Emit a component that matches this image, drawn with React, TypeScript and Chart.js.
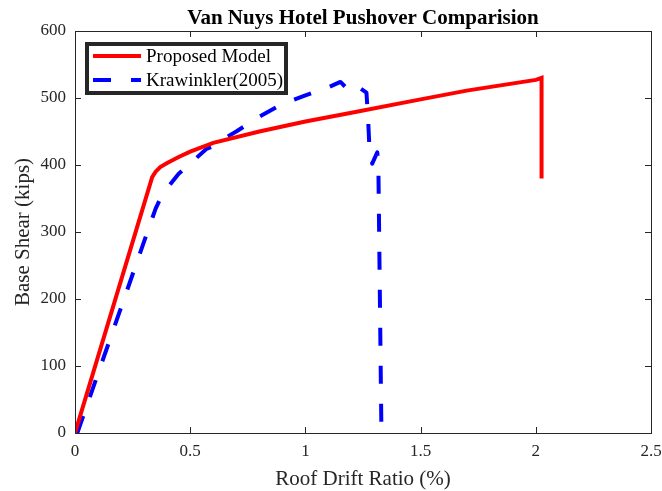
import React, { useEffect, useRef } from "react";
import { Chart, registerables } from "chart.js";

Chart.register(...registerables);

const chartTitle = "Van Nuys Hotel Pushover Comparision";
const xAxisLabel = "Roof Drift Ratio (%)";
const yAxisLabel = "Base Shear (kips)";

const proposedLabel = "Proposed Model";
const proposedX = [0, 0.335, 0.35, 0.37, 0.4, 0.45, 0.5, 0.6, 0.8, 1.0, 1.2, 1.5, 1.7, 2.0, 2.025, 2.025];
const proposedY = [0, 382, 390, 397, 403, 412, 420, 433, 450, 465, 478, 498, 511, 527, 530, 380];

const krawLabel = "Krawinkler(2005)";
const krawX = [0.01, 0.3, 0.35, 0.38, 0.45, 0.5, 0.57, 0.6, 0.62, 0.65, 0.7, 0.8, 0.9, 1.0, 1.1, 1.152, 1.181, 1.21, 1.265, 1.272, 1.278, 1.29, 1.312, 1.317, 1.33];
const krawY = [0, 286, 335, 357, 387, 402, 424, 428, 432, 440, 450, 472, 491, 504, 516, 524, 514, 521, 508, 470, 425, 402, 419, 390, 0];

const xTicks = [0, 0.5, 1, 1.5, 2, 2.5];
const yTicks = [0, 100, 200, 300, 400, 500, 600];

const AX = "#262626";
const FONT = "'Liberation Serif', 'Times New Roman', serif";

const toPts = (xs: number[], ys: number[]) => xs.map((x, i) => ({ x, y: ys[i] }));

const framePlugin = {
  id: "matlabFrame",
  afterDraw(chart: any) {
    const { ctx, chartArea: a, scales } = chart;
    const xs = scales.x;
    const ys = scales.y;
    ctx.save();
    ctx.strokeStyle = AX;
    ctx.lineWidth = 1;
    ctx.setLineDash([]);
    ctx.strokeRect(Math.round(a.left) + 0.5, Math.round(a.top) + 0.5, Math.round(a.right - a.left), Math.round(a.bottom - a.top));
    const tl = 6;
    ctx.beginPath();
    xTicks.forEach((v) => {
      const px = Math.round(xs.getPixelForValue(v)) + 0.5;
      ctx.moveTo(px, a.bottom);
      ctx.lineTo(px, a.bottom - tl);
      ctx.moveTo(px, a.top);
      ctx.lineTo(px, a.top + tl);
    });
    yTicks.forEach((v) => {
      const py = Math.round(ys.getPixelForValue(v)) + 0.5;
      ctx.moveTo(a.left, py);
      ctx.lineTo(a.left + tl, py);
      ctx.moveTo(a.right, py);
      ctx.lineTo(a.right - tl, py);
    });
    ctx.stroke();

    ctx.fillStyle = "#000";
    ctx.font = `bold 21px ${FONT}`;
    ctx.textAlign = "center";
    ctx.textBaseline = "alphabetic";
    ctx.fillText(chartTitle, (a.left + a.right) / 2, 23.5);

    const lx = 87, ly = 44, lw = 199, lh = 49;
    ctx.fillStyle = "#fff";
    ctx.fillRect(lx, ly, lw, lh);
    ctx.strokeStyle = "#262626";
    ctx.lineWidth = 4;
    ctx.strokeRect(lx, ly, lw, lh);
    const ds = chart.data.datasets;
    const rows = [56, 80];
    ds.forEach((d: any, i: number) => {
      const y = rows[i];
      ctx.beginPath();
      ctx.strokeStyle = d.borderColor;
      ctx.lineWidth = d.borderWidth;
      ctx.setLineDash(d.borderDash || []);
      ctx.lineCap = "butt";
      ctx.moveTo(93, y);
      ctx.lineTo(141, y);
      ctx.stroke();
      ctx.setLineDash([]);
      ctx.fillStyle = "#000";
      ctx.font = `19px ${FONT}`;
      ctx.textAlign = "left";
      ctx.textBaseline = "middle";
      ctx.fillText(d.label, 146, y + 1);
    });
    ctx.restore();
  },
};

export default function App() {
  const ref = useRef<HTMLCanvasElement>(null);
  useEffect(() => {
    if (!ref.current) return;
    const chart = new Chart(ref.current, {
      type: "line",
      data: {
        datasets: [
          {
            label: proposedLabel,
            data: toPts(proposedX, proposedY),
            borderColor: "#ff0000",
            backgroundColor: "#ff0000",
            borderWidth: 4,
            pointRadius: 0,
            tension: 0,
            fill: false,
            borderJoinStyle: "miter",
          },
          {
            label: krawLabel,
            data: toPts(krawX, krawY),
            borderColor: "#0000ff",
            backgroundColor: "#0000ff",
            borderWidth: 4,
            borderDash: [18, 20],
            pointRadius: 0,
            tension: 0,
            fill: false,
            borderJoinStyle: "round",
          },
        ],
      },
      options: {
        responsive: false,
        animation: false,
        devicePixelRatio: 1,
        layout: { padding: { top: 31, right: 11, left: 0, bottom: 0 } },
        plugins: {
          legend: { display: false },
          title: { display: false },
          tooltip: { enabled: false },
        },
        scales: {
          x: {
            type: "linear",
            min: 0,
            max: 2.5,
            grid: { display: true, drawOnChartArea: false, drawTicks: false, tickLength: 0, color: "rgba(0,0,0,0)" },
            border: { display: false },
            ticks: {
              stepSize: 0.5,
              padding: 8,
              color: AX,
              font: { family: FONT, size: 17 },
              maxRotation: 0,
              autoSkip: false,
              callback: (v: any) => String(v),
            },
            title: {
              display: true,
              text: xAxisLabel,
              color: AX,
              font: { family: FONT, size: 21 },
              padding: { top: 0, bottom: -1 },
            },
            afterFit: (s: any) => {
              s.height = 58;
              s.paddingLeft = 0;
              s.paddingRight = 0;
            },
          },
          y: {
            type: "linear",
            min: 0,
            max: 600,
            grid: { display: true, drawOnChartArea: false, drawTicks: false, tickLength: 0, color: "rgba(0,0,0,0)" },
            border: { display: false },
            ticks: {
              stepSize: 100,
              padding: 9,
              color: AX,
              font: { family: FONT, size: 17 },
              autoSkip: false,
            },
            title: {
              display: true,
              text: yAxisLabel,
              color: AX,
              font: { family: FONT, size: 21 },
              padding: { top: 11, bottom: 11 },
            },
            afterFit: (s: any) => {
              s.width = 75;
              s.paddingTop = 0;
              s.paddingBottom = 0;
            },
          },
        },
      },
      plugins: [framePlugin],
    } as any);
    return () => chart.destroy();
  }, []);
  return (
    <div style={{ position: "fixed", left: 0, top: 0, width: 662, height: 491, background: "#fff" }}>
      <canvas ref={ref} width={662} height={491} style={{ width: 662, height: 491, display: "block" }} />
    </div>
  );
}
